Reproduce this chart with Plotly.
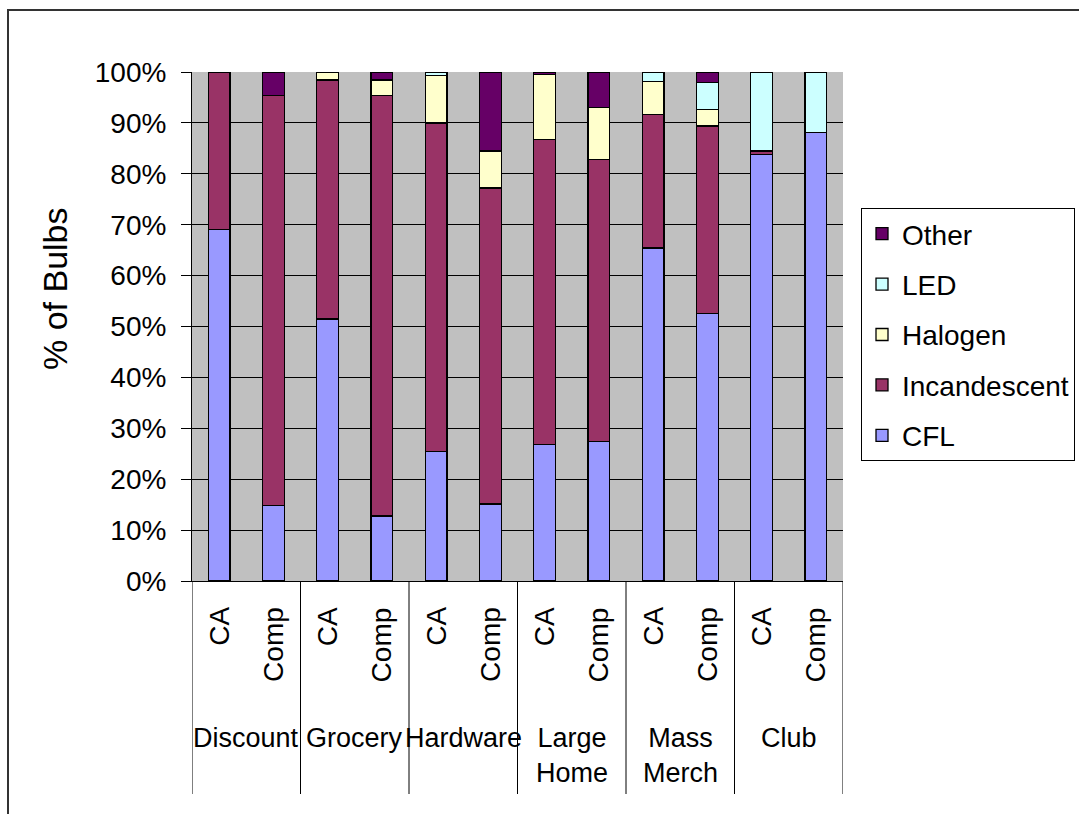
import plotly.graph_objects as go

# Store channels and the two comparison columns shown in each
channels = ["Discount", "Grocery", "Hardware", "Large<br>Home", "Mass<br>Merch", "Club"]
sub_labels = ["CA", "Comp"]

# Share of bulbs (%) per bar, ordered Discount CA, Discount Comp, Grocery CA, ...
cfl = [69.0, 14.9, 51.5, 12.8, 25.4, 15.1, 26.8, 27.4, 65.4, 52.6, 83.8, 88.1]
incandescent = [31.0, 80.5, 46.9, 82.6, 64.6, 62.1, 60.0, 55.4, 26.3, 36.8, 0.7, 0.0]
halogen = [0.0, 0.0, 1.6, 3.0, 9.3, 7.3, 12.7, 10.2, 6.5, 3.3, 0.0, 0.0]
led = [0.0, 0.0, 0.0, 0.0, 0.7, 0.0, 0.0, 0.0, 1.8, 5.3, 15.5, 11.9]
other = [0.0, 4.6, 0.0, 1.6, 0.0, 15.5, 0.5, 7.0, 0.0, 2.0, 0.0, 0.0]

y_ticks = list(range(0, 101, 10))
y_tick_labels = [f"{v}%" for v in y_ticks]

series = [
    ("CFL", cfl, "#9999FF"),
    ("Incandescent", incandescent, "#993366"),
    ("Halogen", halogen, "#FFFFCC"),
    ("LED", led, "#CCFFFF"),
    ("Other", other, "#660066"),
]

FONT = "Liberation Sans, Arial, sans-serif"

# Layout geometry in pixels
W, H = 1079, 814
L, R, T, B = 192, 843, 72, 581
PW, PH = R - L, B - T


def px_x(p):
    return (p - L) / PW


def px_y(p):
    return (B - p) / PH


n_bars = len(channels) * len(sub_labels)
positions = list(range(n_bars))

fig = go.Figure()
for k, (name, vals, color) in enumerate(series):
    fig.add_trace(go.Bar(
        x=positions,
        y=vals,
        name=name,
        legendgroup=name,
        legendrank=len(series) - k,
        width=0.4,
        marker=dict(color=color, line=dict(color="#000000", width=1.3)),
    ))

annotations = []
# Rotated sub-category labels under each bar
for i in positions:
    annotations.append(dict(
        x=i, xref="x", y=px_y(605), yref="paper",
        text=sub_labels[i % len(sub_labels)], textangle=-90,
        showarrow=False, xanchor="center", yanchor="top",
        font=dict(family=FONT, size=28, color="#000000"),
    ))
# Channel labels centred under each pair
for g, ch in enumerate(channels):
    annotations.append(dict(
        x=g * 2 + 0.5, xref="x", y=px_y(721), yref="paper",
        text=ch, showarrow=False, xanchor="center", yanchor="top",
        font=dict(family=FONT, size=27, color="#000000"),
    ))
# Y axis title
annotations.append(dict(
    x=px_x(55), xref="paper", y=px_y(289), yref="paper",
    text="% of Bulbs", textangle=-90, showarrow=False,
    xanchor="center", yanchor="middle",
    font=dict(family=FONT, size=34, color="#000000"),
))

shapes = []
# Vertical dividers between channel groups
for g in range(len(channels) + 1):
    shapes.append(dict(
        type="line", xref="x", x0=g * 2 - 0.5, x1=g * 2 - 0.5,
        yref="paper", y0=0, y1=px_y(794),
        line=dict(color="#000000", width=1),
    ))
# Chart frame
shapes.append(dict(
    type="rect", xref="paper", yref="paper",
    x0=px_x(8), x1=px_x(1100), y0=px_y(840), y1=px_y(10),
    line=dict(color="#333333", width=2), fillcolor="rgba(0,0,0,0)",
))

fig.update_layout(
    width=W, height=H,
    margin=dict(l=L, r=W - R, t=T, b=H - B, pad=0, autoexpand=False),
    barmode="stack",
    paper_bgcolor="#FFFFFF",
    plot_bgcolor="#C0C0C0",
    font=dict(family=FONT, size=28, color="#000000"),
    showlegend=True,
    legend=dict(
        x=px_x(861), y=px_y(208), xanchor="left", yanchor="top",
        traceorder="grouped", tracegroupgap=11,
        bordercolor="#000000", borderwidth=1, bgcolor="#FFFFFF",
        font=dict(family=FONT, size=28, color="#000000"),
    ),
    xaxis=dict(
        range=[-0.5, n_bars - 0.5], showticklabels=False, ticks="",
        showgrid=False, zeroline=False, showline=True,
        linecolor="#000000", linewidth=1,
    ),
    yaxis=dict(
        range=[0, 100], tickmode="array", tickvals=y_ticks, ticktext=y_tick_labels,
        ticks="outside", ticklen=10, tickcolor="#000000", tickwidth=1,
        ticklabelstandoff=9,
        showgrid=True, gridcolor="#000000", gridwidth=1,
        zeroline=False, showline=True, linecolor="#000000", linewidth=1,
        tickfont=dict(family=FONT, size=28, color="#000000"),
    ),
    annotations=annotations,
    shapes=shapes,
)

fig.write_html("out.html")
